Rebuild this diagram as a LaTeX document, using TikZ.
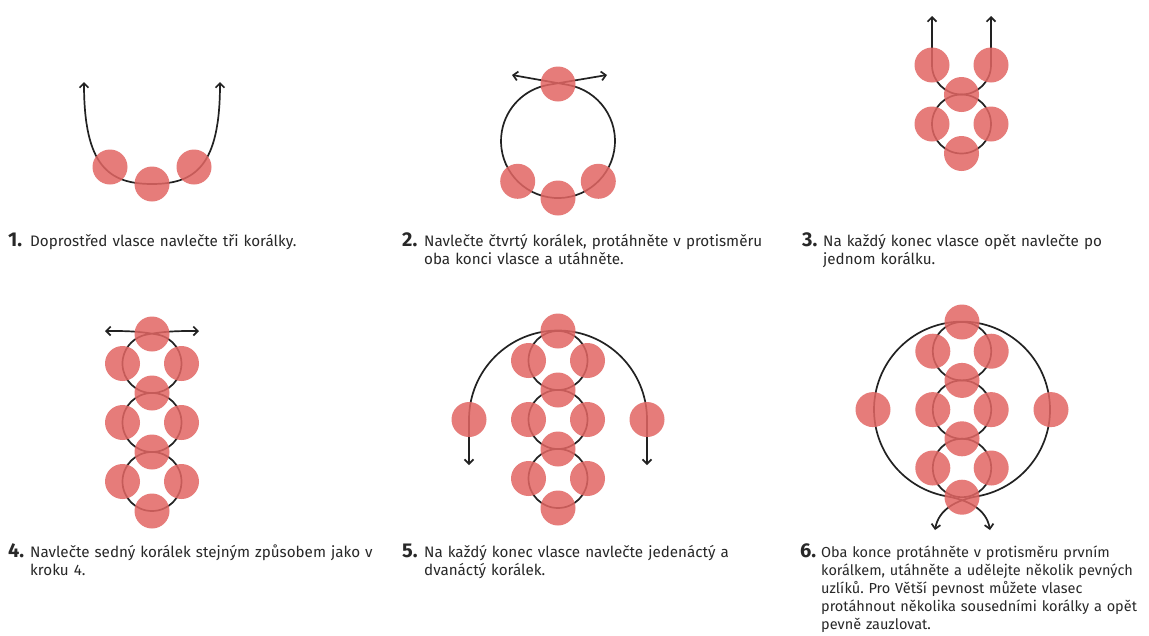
\documentclass[tikz,border=0pt]{standalone}
\usepackage{fontspec}
\setmainfont{Fira Sans}
\usetikzlibrary{arrows.meta}
\frenchspacing
\definecolor{beadc}{RGB}{226,102,99}
\definecolor{thread}{RGB}{34,34,34}
\definecolor{txt}{RGB}{40,40,40}
\tikzset{
  bead/.style={fill=beadc, fill opacity=0.85},
  wire/.style={draw=thread, line width=1.7pt, >={Straight Barb[length=4.5pt,width=9pt]}},
  numtext/.style={anchor=base west, inner sep=0pt, text=txt, font=\fontsize{20}{20}\selectfont\bfseries},
  captext/.style={anchor=base west, inner sep=0pt, text=txt, text width=440pt, align=left, font=\fontsize{15.2}{18}\selectfont}
}
\begin{document}
\begin{tikzpicture}[x=1pt,y=1pt]
\fill[white] (0,0) rectangle (1149,-635);
\useasboundingbox (0,0) rectangle (1149,-635);

% ---------- Panel 1 ----------
\coordinate (p1l) at (84,-82);
\coordinate (p1b) at (152,-184);
\coordinate (p1r) at (220,-82);
\draw[wire,<->] (p1l) .. controls (84,-165) and (108,-184) .. (p1b)
                      .. controls (196,-184) and (220,-165) .. (p1r);
\foreach \x/\y in {110/167,152/184,194/167}
  \fill[bead] (\x,-\y) circle[radius=17.5];

% ---------- Panel 2 ----------
\coordinate (p2l) at (512,-75);
\coordinate (p2a) at (567.9,-84.9);
\coordinate (p2r) at (607,-75);
\draw[wire,<->] (p2l) -- (p2a) arc[start angle=80, end angle=-260, radius=57] -- (p2r);
\foreach \x/\y in {558/84,517.7/181.3,598.3/181.3,558/198}
  \fill[bead] (\x,-\y) circle[radius=17.5];

% ---------- Panel 3 ----------
\coordinate (p3l) at (932,-16);
\coordinate (p3r) at (991,-16);
\draw[wire,<->] (p3l) -- (932,-65) arc[start angle=180, end angle=360, radius=29.5] -- (p3r);
\draw[wire] (961.5,-124) circle[radius=29.5];
\foreach \x/\y in {932/65,991/65,961.5/94.5,932/124,991/124,961.5/153.5}
  \fill[bead] (\x,-\y) circle[radius=17.5];

% ---------- Panel 4 ----------
\coordinate (p4l) at (105,-331);
\coordinate (p4a) at (157.1,-334.5);
\coordinate (p4r) at (199,-331);
\draw[wire,<->] (p4l) to[out=0,in=170] (p4a)
   arc[start angle=80, end angle=-260, radius=29.5] to[out=10,in=180] (p4r);
\draw[wire] (152,-422.5) circle[radius=29.5];
\draw[wire] (152,-481.5) circle[radius=29.5];
\foreach \y in {334,393,452,511}
  \fill[bead] (152,-\y) circle[radius=17.5];
\foreach \y in {363.5,422.5,481.5}{
  \fill[bead] (122.5,-\y) circle[radius=17.5];
  \fill[bead] (181.5,-\y) circle[radius=17.5];
}

% ---------- Panel 5 ----------
\coordinate (p5l) at (469,-465);
\coordinate (p5r) at (647,-465);
\draw[wire,<->] (p5l) -- (469,-419.5) arc[start angle=180, end angle=0, radius=89] -- (p5r);
\foreach \y in {360.5,419.5,478.5}
  \draw[wire] (558,-\y) circle[radius=29.5];
\foreach \y in {331,390,449,508}
  \fill[bead] (558,-\y) circle[radius=17.5];
\foreach \y in {360.5,419.5,478.5}{
  \fill[bead] (528.5,-\y) circle[radius=17.5];
  \fill[bead] (587.5,-\y) circle[radius=17.5];
}
\fill[bead] (469,-419.5) circle[radius=17.5];
\fill[bead] (647,-419.5) circle[radius=17.5];

% ---------- Panel 6 ----------
\coordinate (p6l) at (935,-530);
\coordinate (p6a) at (977.3,-496.3);
\coordinate (p6r) at (990,-530);
\draw[wire,<->] (p6l) to[out=80,in=190] (p6a)
   arc[start angle=-80, end angle=260, radius=88] to[out=-10,in=100] (p6r);
\foreach \y in {351.2,409.6,468}
  \draw[wire] (962,-\y) circle[radius=29.2];
\foreach \y in {322,380.4,438.8,497.2}
  \fill[bead] (962,-\y) circle[radius=17.5];
\foreach \y in {351.2,409.6,468}{
  \fill[bead] (932.8,-\y) circle[radius=17.5];
  \fill[bead] (991.2,-\y) circle[radius=17.5];
}
\fill[bead] (873,-409.6) circle[radius=17.5];
\fill[bead] (1051,-409.6) circle[radius=17.5];

% ---------- Captions ----------
\node[numtext] (n1) at (8,-246) {1.};
\node[captext] (t1) at (30,-246) {Doprostřed vlasce navlečte tři korálky.};
\node[numtext] (n2) at (402,-246) {2.};
\node[captext] (t2) at (424,-246) {Navlečte čtvrtý korálek, protáhněte v protisměru\\oba konci vlasce a utáhněte.};
\node[numtext] (n3) at (802,-246) {3.};
\node[captext] (t3) at (823,-246) {Na každý konec vlasce opět navlečte po\\jednom korálku.};
\node[numtext] (n4) at (8,-557) {4.};
\node[captext] (t4) at (30,-557) {Navlečte sedný korálek stejným způsobem jako v\\kroku 4.};
\node[numtext] (n5) at (402,-557) {5.};
\node[captext] (t5) at (424,-557) {Na každý konec vlasce navlečte jedenáctý a\\dvanáctý korálek.};
\node[numtext] (n6) at (800,-557) {6.};
\node[captext, font=\fontsize{14.5}{18}\selectfont] (t6) at (821,-557) {Oba konce protáhněte v protisměru prvním\\korálkem, utáhněte a udělejte několik pevných\\uzlíků. Pro Větší pevnost můžete vlasec\\protáhnout několika sousedními korálky a opět\\pevně zauzlovat.};
\end{tikzpicture}
\end{document}
